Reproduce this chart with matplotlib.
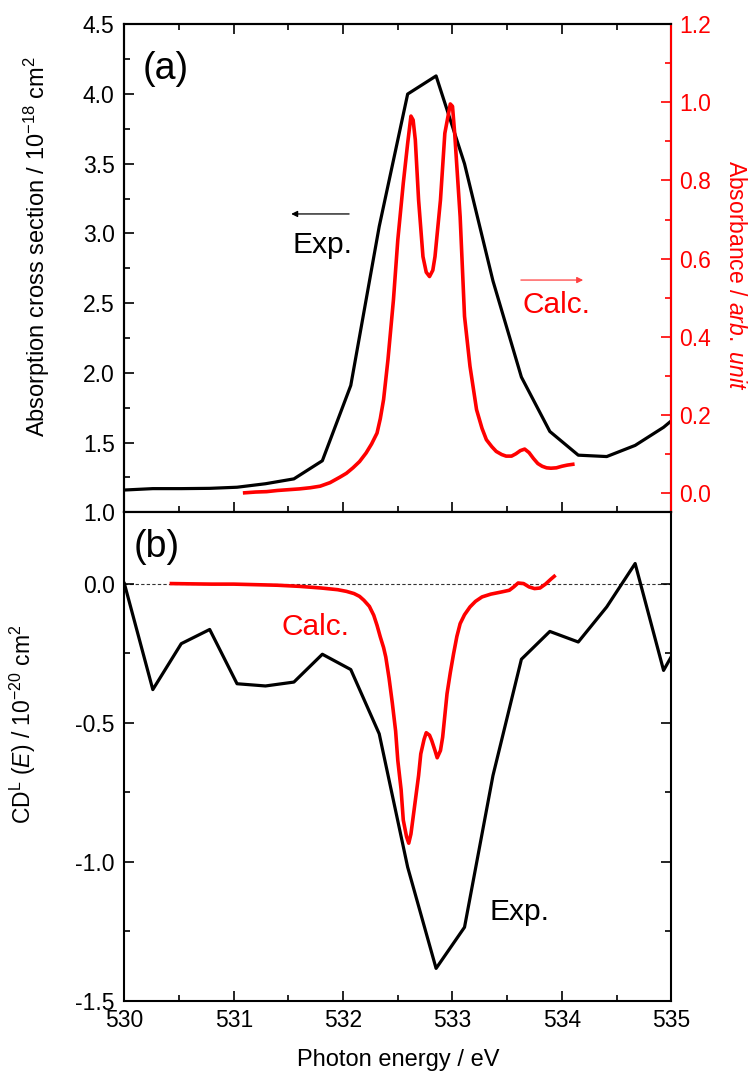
import matplotlib
matplotlib.use('Agg')
import matplotlib.pyplot as plt
from matplotlib.ticker import MultipleLocator, FixedLocator

plt.rcParams['font.family'] = ['Liberation Sans', 'DejaVu Sans']
plt.rcParams['mathtext.fontset'] = 'custom'
plt.rcParams['mathtext.rm'] = 'Liberation Sans'
plt.rcParams['mathtext.it'] = 'Liberation Sans:italic'
plt.rcParams['axes.unicode_minus'] = False

# ---- (a) absorption: experiment (left axis) ----
exp_abs_E = [530.00, 530.26, 530.52, 530.78, 531.03, 531.29, 531.55, 531.81,
             532.07, 532.33, 532.59, 532.85, 533.11, 533.37, 533.63, 533.89,
             534.15, 534.41, 534.67, 534.93, 535.19]
exp_abs = [1.16, 1.17, 1.17, 1.172, 1.18, 1.205, 1.24, 1.37,
           1.91, 3.05, 4.00, 4.13, 3.50, 2.66, 1.97, 1.58,
           1.41, 1.40, 1.48, 1.61, 1.78]

# ---- (a) absorption: calculation (right axis) ----
calc_abs_E = [531.10, 531.20, 531.30, 531.40, 531.50, 531.60, 531.70, 531.79,
              531.88, 531.97, 532.03, 532.09, 532.15, 532.21, 532.26, 532.31,
              532.34, 532.37, 532.41, 532.46, 532.50, 532.55, 532.59, 532.62,
              532.64, 532.66, 532.69, 532.73, 532.76, 532.79, 532.82, 532.84,
              532.89, 532.93, 532.98, 533.00, 533.02, 533.07, 533.11, 533.16,
              533.22, 533.27, 533.31, 533.36, 533.40, 533.45, 533.49, 533.54,
              533.58, 533.62, 533.66, 533.70, 533.74, 533.78, 533.82, 533.86,
              533.90, 533.95, 534.00, 534.05, 534.10]
calc_abs = [0.000, 0.002, 0.003, 0.006, 0.008, 0.010, 0.013, 0.017,
            0.026, 0.040, 0.050, 0.064, 0.080, 0.102, 0.125, 0.153,
            0.190, 0.239, 0.341, 0.494, 0.648, 0.793, 0.895, 0.965,
            0.955, 0.904, 0.750, 0.605, 0.565, 0.554, 0.570, 0.605,
            0.750, 0.921, 0.996, 0.990, 0.921, 0.707, 0.452, 0.324,
            0.213, 0.165, 0.136, 0.118, 0.106, 0.098, 0.094, 0.094,
            0.100, 0.108, 0.112, 0.103, 0.088, 0.075, 0.068, 0.064,
            0.063, 0.064, 0.068, 0.071, 0.073]

# ---- (b) CD: experiment ----
exp_cd_E = exp_abs_E
exp_cd = [0.000, -0.381, -0.216, -0.165, -0.360, -0.368, -0.354, -0.254,
          -0.309, -0.540, -1.019, -1.383, -1.235, -0.690, -0.272, -0.172,
          -0.210, -0.084, 0.072, -0.312, -0.130]

# ---- (b) CD: calculation ----
calc_cd_E = [530.43, 530.60, 530.80, 531.00, 531.20, 531.40, 531.60, 531.80,
             531.95, 532.03, 532.10, 532.15, 532.19, 532.24, 532.28, 532.31,
             532.34, 532.37, 532.39, 532.42, 532.45, 532.48, 532.50, 532.53,
             532.55, 532.58, 532.60, 532.62, 532.64, 532.66, 532.69, 532.71,
             532.74, 532.76, 532.79, 532.81, 532.84, 532.86, 532.89, 532.91,
             532.95, 532.98, 533.01, 533.04, 533.07, 533.11, 533.16, 533.21,
             533.27, 533.35, 533.45, 533.52, 533.56, 533.60, 533.65, 533.70,
             533.75, 533.80, 533.85, 533.90, 533.93]
calc_cd = [0.000, -0.001, -0.002, -0.002, -0.004, -0.006, -0.010, -0.016,
           -0.022, -0.028, -0.036, -0.046, -0.060, -0.082, -0.114, -0.150,
           -0.192, -0.230, -0.264, -0.340, -0.430, -0.530, -0.636, -0.740,
           -0.850, -0.910, -0.933, -0.900, -0.840, -0.780, -0.690, -0.612,
           -0.560, -0.536, -0.545, -0.564, -0.600, -0.626, -0.600, -0.552,
           -0.396, -0.320, -0.252, -0.190, -0.144, -0.112, -0.084, -0.064,
           -0.048, -0.038, -0.030, -0.024, -0.012, 0.002, 0.000, -0.012,
           -0.018, -0.016, -0.002, 0.016, 0.026]

RED = '#ff0000'
TICK_FS = 16.5
LABEL_FS = 17
NOTE_FS = 21.5

fig = plt.figure(figsize=(7.52, 10.77), dpi=100)
ax1 = fig.add_axes([0.1654, 0.5243, 0.7272, 0.4531])
ax2 = fig.add_axes([0.1654, 0.0706, 0.7272, 0.4537])
ax1r = ax1.twinx()

for a in (ax1, ax2, ax1r):
    for s in a.spines.values():
        s.set_linewidth(1.5)

# panel (a)
ax1.plot(exp_abs_E, exp_abs, color='k', lw=2.3, zorder=3)
ax1r.plot(calc_abs_E, calc_abs, color=RED, lw=2.6, zorder=3)

ax1.set_xlim(530, 535)
ax1.set_ylim(1.0, 4.5)
ax1r.set_ylim(-0.05, 1.2)
ax1.xaxis.set_major_locator(MultipleLocator(1))
ax1.xaxis.set_minor_locator(MultipleLocator(0.5))
ax1.yaxis.set_major_locator(MultipleLocator(0.5))
ax1.yaxis.set_minor_locator(MultipleLocator(0.25))
ax1.tick_params(which='both', direction='in', top=True, bottom=True,
                left=True, right=False, labelbottom=False, labelsize=TICK_FS,
                width=1.2, pad=7)
ax1.tick_params(which='major', length=7)
ax1.tick_params(which='minor', length=4)

ax1r.yaxis.set_major_locator(FixedLocator([0.0, 0.2, 0.4, 0.6, 0.8, 1.0, 1.2]))
ax1r.yaxis.set_minor_locator(FixedLocator([0.1, 0.3, 0.5, 0.7, 0.9, 1.1]))
ax1r.tick_params(which='both', direction='in', colors=RED, labelsize=TICK_FS,
                 width=1.2, pad=6)
ax1r.tick_params(which='major', length=7)
ax1r.tick_params(which='minor', length=4)
ax1r.spines['right'].set_color(RED)

ax1.set_ylabel('Absorption cross section / 10$^{-18}$ cm$^{2}$',
               fontsize=LABEL_FS)
ax1.yaxis.set_label_coords(-0.132, 0.544)
ax1r.set_ylabel('Absorbance / $\\mathit{arb.\\ unit}$', fontsize=LABEL_FS - 0.5,
                color=RED, rotation=270)
ax1r.yaxis.set_label_coords(1.138, 0.485)

ax1.text(0.033, 0.945, '(a)', transform=ax1.transAxes, fontsize=27,
         va='top', ha='left')
ax1.annotate('', xy=(531.50, 3.14), xytext=(532.08, 3.14),
             arrowprops=dict(arrowstyle='-|>', color='k', lw=0.9,
                             mutation_scale=9))
ax1.text(531.54, 2.92, 'Exp.', fontsize=NOTE_FS, va='center', ha='left')
ax1r.annotate('', xy=(534.22, 0.545), xytext=(533.60, 0.545),
              arrowprops=dict(arrowstyle='-|>', color='#ff4040', lw=0.9,
                              mutation_scale=9))
ax1r.text(533.64, 0.48, 'Calc.', fontsize=NOTE_FS, va='center', ha='left',
          color=RED)

# panel (b)
ax2.axhline(0.0, color='#333333', lw=0.8, ls=(0, (3, 2)), zorder=1)
ax2.plot(exp_cd_E, exp_cd, color='k', lw=2.3, zorder=3)
ax2.plot(calc_cd_E, calc_cd, color=RED, lw=2.6, zorder=4)

ax2.set_xlim(530, 535)
ax2.set_ylim(-1.5, 0.256)
ax2.xaxis.set_major_locator(MultipleLocator(1))
ax2.xaxis.set_minor_locator(MultipleLocator(0.5))
ax2.yaxis.set_major_locator(FixedLocator([-1.5, -1.0, -0.5, 0.0]))
ax2.yaxis.set_minor_locator(FixedLocator([-1.25, -0.75, -0.25]))
ax2.set_yticklabels(['-1.5', '-1.0', '-0.5', '0.0'])
ax2.tick_params(which='both', direction='in', top=False, bottom=True,
                left=True, right=True, labelsize=TICK_FS, width=1.2)
ax2.tick_params(axis='y', pad=7)
ax2.tick_params(axis='x', pad=6)
ax2.tick_params(which='major', length=7)
ax2.tick_params(which='minor', length=4)

ax2.set_xlabel('Photon energy / eV', fontsize=LABEL_FS, labelpad=12)
ax2.set_ylabel('CD$^{\\mathrm{L}}$ ($\\mathit{E}$) / 10$^{-20}$ cm$^{2}$',
               fontsize=LABEL_FS - 0.5)
ax2.yaxis.set_label_coords(-0.158, 0.566)

ax2.text(0.017, 0.965, '(b)', transform=ax2.transAxes, fontsize=27,
         va='top', ha='left')
ax2.text(531.44, -0.157, 'Calc.', fontsize=NOTE_FS, va='center', ha='left',
         color=RED)
ax2.text(533.34, -1.18, 'Exp.', fontsize=NOTE_FS, va='center', ha='left')

fig.savefig('out.png', dpi=100)
